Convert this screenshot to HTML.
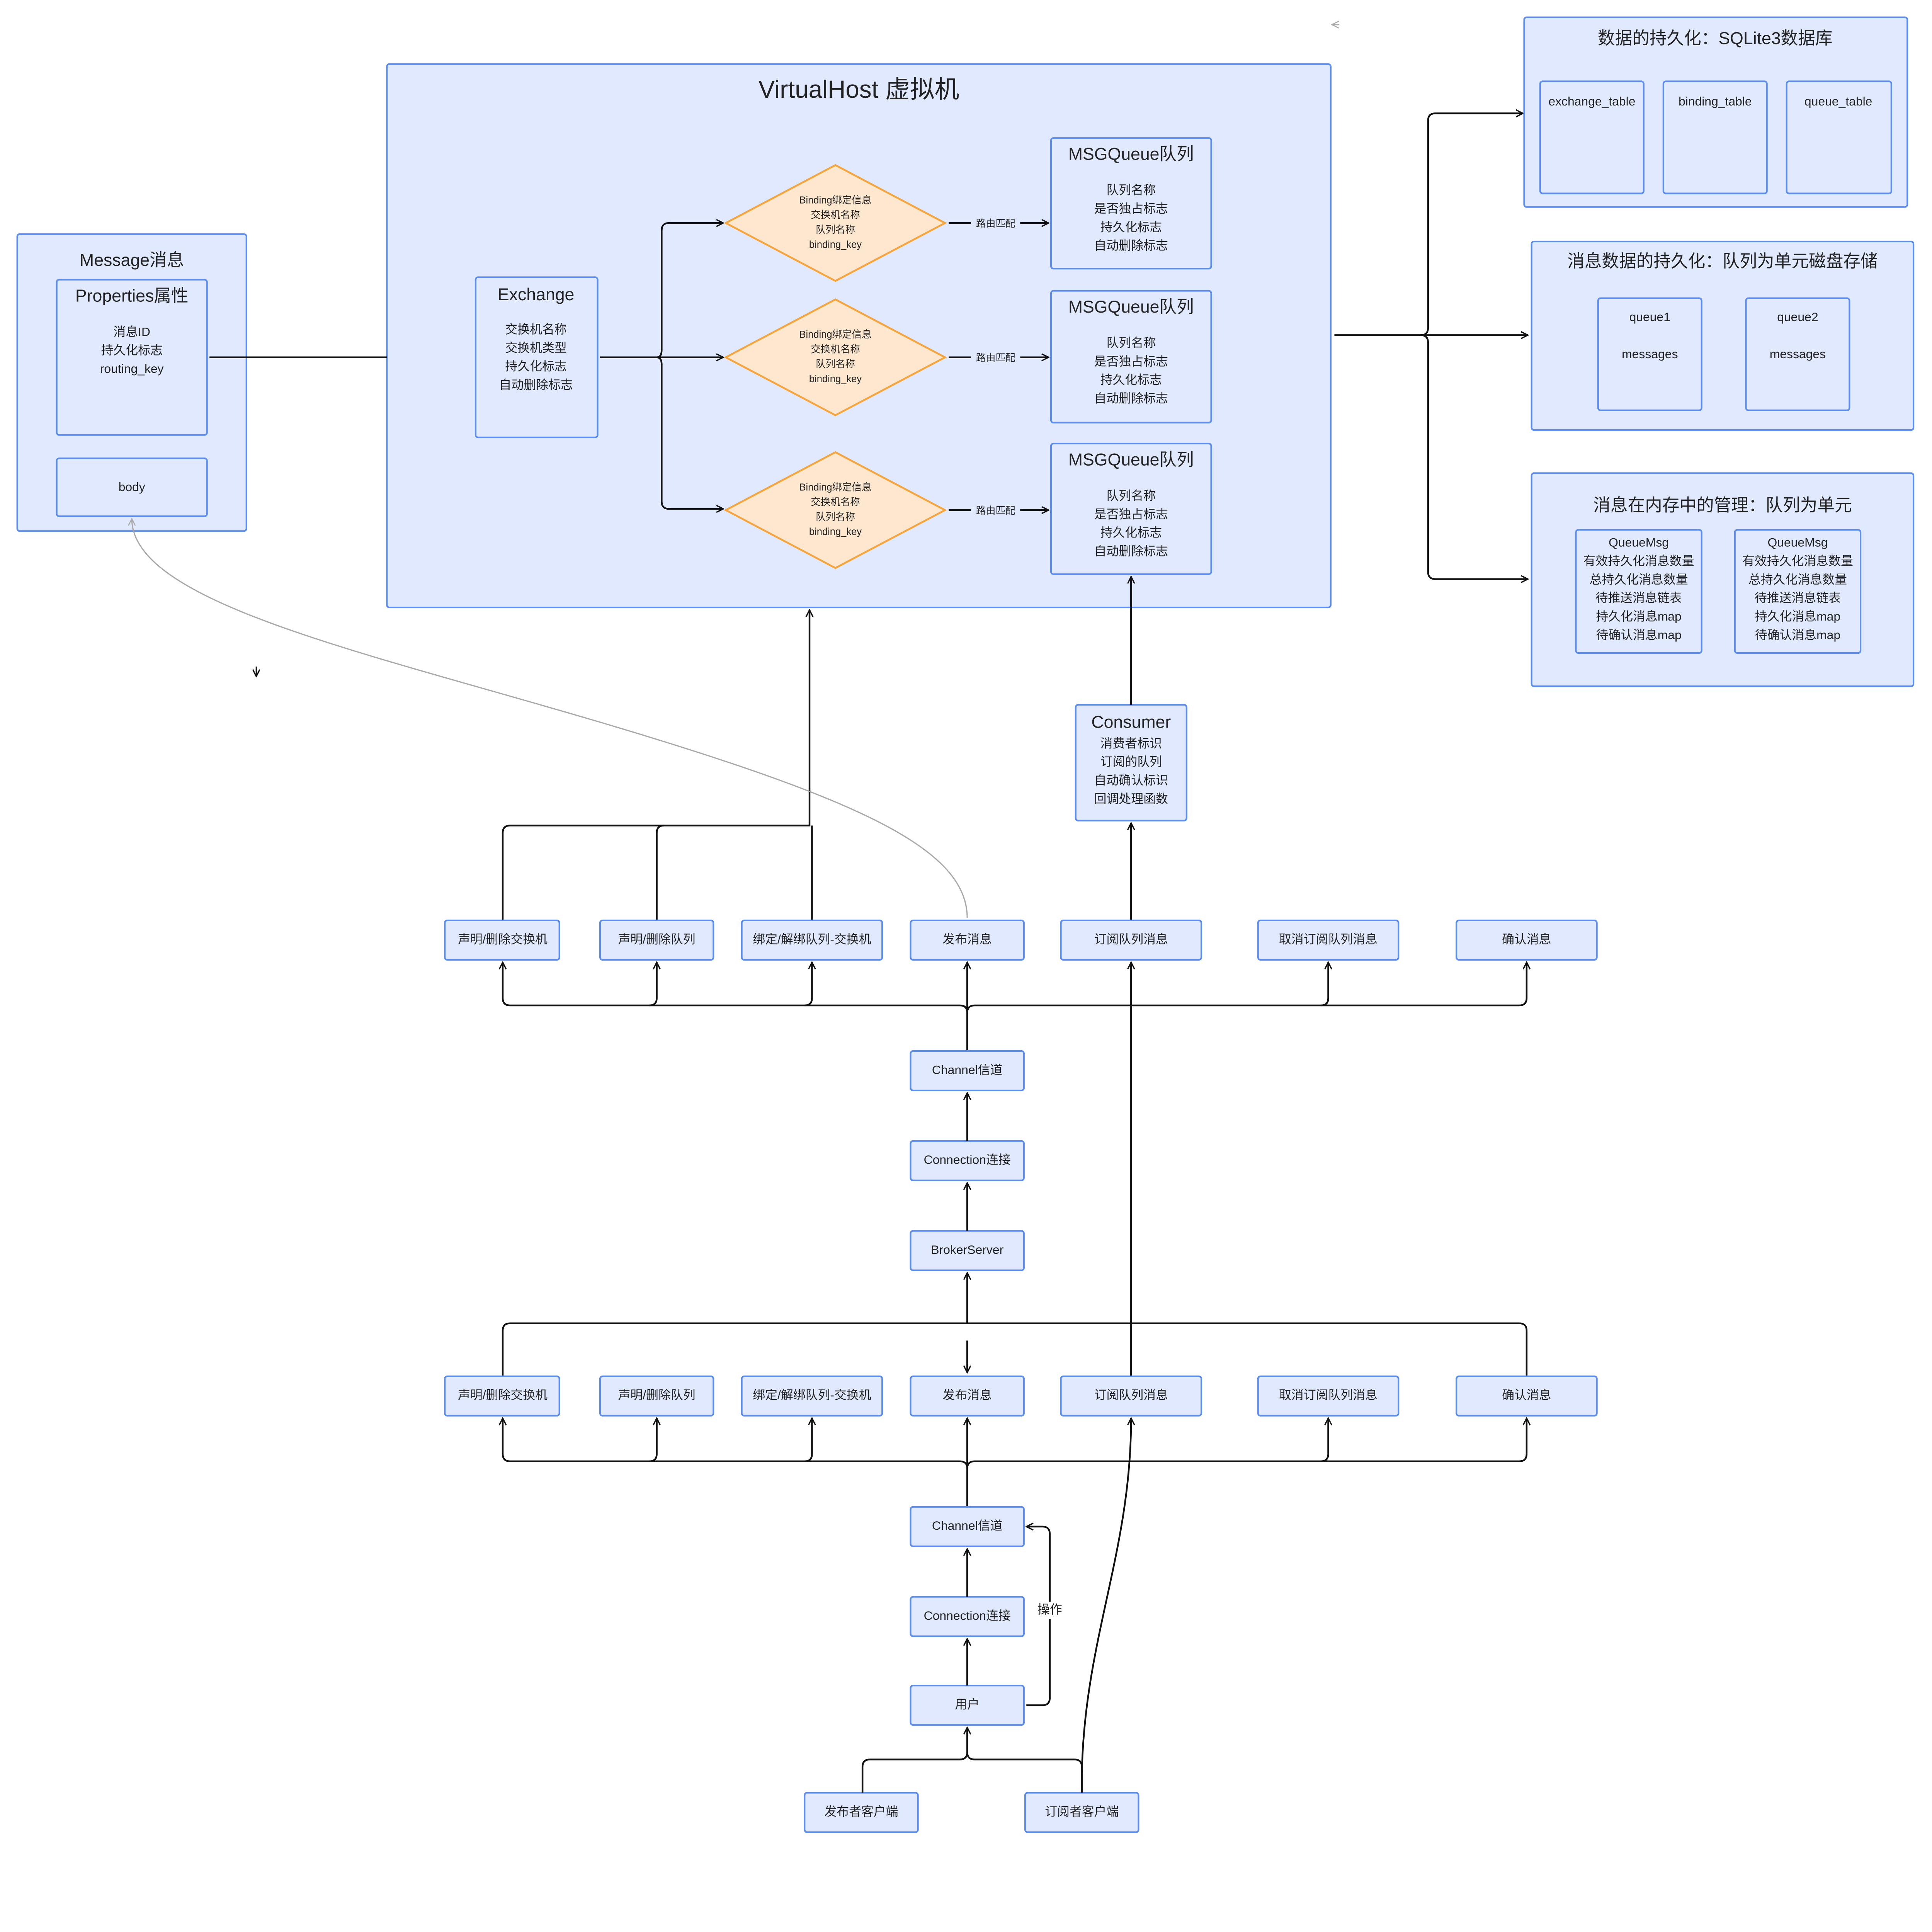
<!DOCTYPE html>
<html><head><meta charset="utf-8">
<style>
html,body{margin:0;padding:0;background:#fff;overflow:hidden;}
svg{display:block;width:100vw;height:95.853vw;position:absolute;left:0;top:0;}
text{font-family:"Liberation Sans","Noto Sans CJK SC",sans-serif;fill:#222;text-anchor:middle;dominant-baseline:middle;}
.b{fill:#e0e9fd;stroke:#5b8def;stroke-width:1.3;}
.d{fill:#fde7cf;stroke:#f7a53a;stroke-width:1.5;}
.l{fill:none;stroke:#111;stroke-width:1.4;}
.g{fill:none;stroke:#aaa;stroke-width:1;}
</style></head><body>
<svg viewBox="0 0 1568 1503" preserveAspectRatio="none" xmlns="http://www.w3.org/2000/svg">
<defs>
<marker id="a" viewBox="0 0 10 10" refX="9" refY="5" markerWidth="7" markerHeight="7" orient="auto-start-reverse" markerUnits="userSpaceOnUse"><path d="M1,1 L9,5 L1,9" fill="none" stroke="#111" stroke-width="1.5"/></marker>
<marker id="ag" viewBox="0 0 10 10" refX="9" refY="5" markerWidth="7" markerHeight="7" orient="auto-start-reverse" markerUnits="userSpaceOnUse"><path d="M1,1 L9,5 L1,9" fill="none" stroke="#aaa" stroke-width="1.2"/></marker>
</defs>
<rect width="1568" height="1503" fill="#fff"/>

<rect class="b" x="314" y="52" width="766" height="441" rx="2"/>
<text x="697" y="74" font-size="20">VirtualHost 虚拟机</text>

<rect class="b" x="14" y="190" width="186" height="241" rx="2"/>
<text x="107" y="212" font-size="14">Message消息</text>
<rect class="b" x="46" y="227" width="122" height="126" rx="2"/>
<text x="107" y="241" font-size="14">Properties属性</text>
<text x="107" y="270" font-size="10">消息ID</text>
<text x="107" y="285" font-size="10">持久化标志</text>
<text x="107" y="300" font-size="10">routing_key</text>
<rect class="b" x="46" y="372" width="122" height="47" rx="2"/>
<text x="107" y="396" font-size="10">body</text>
<path class="l" d="M170,290 H314"/>

<rect class="b" x="386" y="225" width="99" height="130" rx="2"/>
<text x="435" y="240" font-size="14">Exchange</text>
<text x="435" y="268" font-size="10">交换机名称</text>
<text x="435" y="283" font-size="10">交换机类型</text>
<text x="435" y="298" font-size="10">持久化标志</text>
<text x="435" y="313" font-size="10">自动删除标志</text>

<path class="l" d="M487,290 H587" marker-end="url(#a)"/>
<path class="l" d="M533,290 Q537,290 537,284 V187 Q537,181 543,181 H587" marker-end="url(#a)"/>
<path class="l" d="M533,290 Q537,290 537,296 V407 Q537,413 543,413 H587" marker-end="url(#a)"/>

<g font-size="8">
<polygon class="d" points="678,134 767,181 678,228 589,181"/>
<text x="678" y="163">Binding绑定信息</text><text x="678" y="175">交换机名称</text><text x="678" y="187">队列名称</text><text x="678" y="199">binding_key</text>
<polygon class="d" points="678,243 767,290 678,337 589,290"/>
<text x="678" y="272">Binding绑定信息</text><text x="678" y="284">交换机名称</text><text x="678" y="296">队列名称</text><text x="678" y="308">binding_key</text>
<polygon class="d" points="678,367 767,414 678,461 589,414"/>
<text x="678" y="396">Binding绑定信息</text><text x="678" y="408">交换机名称</text><text x="678" y="420">队列名称</text><text x="678" y="432">binding_key</text>
</g>
<g font-size="8">
<path class="l" d="M770,181 H788 M828,181 H851" marker-end="url(#a)"/><text x="808" y="182">路由匹配</text>
<path class="l" d="M770,290 H788 M828,290 H851" marker-end="url(#a)"/><text x="808" y="291">路由匹配</text>
<path class="l" d="M770,414 H788 M828,414 H851" marker-end="url(#a)"/><text x="808" y="415">路由匹配</text>
</g>

<g>
<rect class="b" x="853" y="112" width="130" height="106" rx="2"/>
<text x="918" y="126" font-size="14">MSGQueue队列</text>
<text x="918" y="155" font-size="10">队列名称</text><text x="918" y="170" font-size="10">是否独占标志</text><text x="918" y="185" font-size="10">持久化标志</text><text x="918" y="200" font-size="10">自动删除标志</text>
<rect class="b" x="853" y="236" width="130" height="107" rx="2"/>
<text x="918" y="250" font-size="14">MSGQueue队列</text>
<text x="918" y="279" font-size="10">队列名称</text><text x="918" y="294" font-size="10">是否独占标志</text><text x="918" y="309" font-size="10">持久化标志</text><text x="918" y="324" font-size="10">自动删除标志</text>
<rect class="b" x="853" y="360" width="130" height="106" rx="2"/>
<text x="918" y="374" font-size="14">MSGQueue队列</text>
<text x="918" y="403" font-size="10">队列名称</text><text x="918" y="418" font-size="10">是否独占标志</text><text x="918" y="433" font-size="10">持久化标志</text><text x="918" y="448" font-size="10">自动删除标志</text>
</g>

<rect class="b" x="873" y="572" width="90" height="94" rx="2"/>
<text x="918" y="587" font-size="14">Consumer</text>
<text x="918" y="604" font-size="10">消费者标识</text><text x="918" y="619" font-size="10">订阅的队列</text><text x="918" y="634" font-size="10">自动确认标识</text><text x="918" y="649" font-size="10">回调处理函数</text>
<path class="l" d="M918,572 V468" marker-end="url(#a)"/>
<path class="l" d="M918,747 V668" marker-end="url(#a)"/>

<path class="l" d="M1083,272 H1153 Q1159,272 1159,266 V98 Q1159,92 1165,92 H1236" marker-end="url(#a)"/>
<path class="l" d="M1153,272 Q1159,272 1159,278 V464 Q1159,470 1165,470 H1240" marker-end="url(#a)"/>
<path class="l" d="M1153,272 H1240" marker-end="url(#a)"/>

<rect class="b" x="1237" y="14" width="311" height="154" rx="2"/>
<text x="1392" y="32" font-size="14">数据的持久化：SQLite3数据库</text>
<rect class="b" x="1250" y="66" width="84" height="91" rx="2"/><text x="1292" y="83" font-size="10">exchange_table</text>
<rect class="b" x="1350" y="66" width="84" height="91" rx="2"/><text x="1392" y="83" font-size="10">binding_table</text>
<rect class="b" x="1450" y="66" width="85" height="91" rx="2"/><text x="1492" y="83" font-size="10">queue_table</text>

<rect class="b" x="1243" y="196" width="310" height="153" rx="2"/>
<text x="1398" y="213" font-size="14">消息数据的持久化：队列为单元磁盘存储</text>
<rect class="b" x="1297" y="242" width="84" height="91" rx="2"/><text x="1339" y="258" font-size="10">queue1</text><text x="1339" y="288" font-size="10">messages</text>
<rect class="b" x="1417" y="242" width="84" height="91" rx="2"/><text x="1459" y="258" font-size="10">queue2</text><text x="1459" y="288" font-size="10">messages</text>

<rect class="b" x="1243" y="384" width="310" height="173" rx="2"/>
<text x="1398" y="411" font-size="14">消息在内存中的管理：队列为单元</text>
<rect class="b" x="1279" y="430" width="102" height="100" rx="2"/>
<rect class="b" x="1408" y="430" width="102" height="100" rx="2"/>
<g font-size="10">
<text x="1330" y="441">QueueMsg</text><text x="1330" y="456">有效持久化消息数量</text><text x="1330" y="471">总持久化消息数量</text><text x="1330" y="486">待推送消息链表</text><text x="1330" y="501">持久化消息map</text><text x="1330" y="516">待确认消息map</text>
<text x="1459" y="441">QueueMsg</text><text x="1459" y="456">有效持久化消息数量</text><text x="1459" y="471">总持久化消息数量</text><text x="1459" y="486">待推送消息链表</text><text x="1459" y="501">持久化消息map</text><text x="1459" y="516">待确认消息map</text>
</g>

<path class="l" d="M408,747 V676 Q408,670 414,670 H657 V495" marker-end="url(#a)"/>
<path class="l" d="M533,747 V676 Q533,670 539,670"/>
<path class="l" d="M659,747 V670"/>
<path class="g" d="M785,745 C785,690 700,650 500,590 C300,530 107,490 107,421" marker-end="url(#ag)"/>
<path class="g" d="M1087,20 H1081" marker-end="url(#ag)"/>
<path class="l" d="M208,541 V549" style="stroke-width:1" marker-end="url(#a)"/>

<g font-size="10">
<rect class="b" x="361" y="747" width="93" height="32" rx="2"/><text x="408" y="763">声明/删除交换机</text>
<rect class="b" x="487" y="747" width="92" height="32" rx="2"/><text x="533" y="763">声明/删除队列</text>
<rect class="b" x="602" y="747" width="114" height="32" rx="2"/><text x="659" y="763">绑定/解绑队列-交换机</text>
<rect class="b" x="739" y="747" width="92" height="32" rx="2"/><text x="785" y="763">发布消息</text>
<rect class="b" x="861" y="747" width="114" height="32" rx="2"/><text x="918" y="763">订阅队列消息</text>
<rect class="b" x="1021" y="747" width="114" height="32" rx="2"/><text x="1078" y="763">取消订阅队列消息</text>
<rect class="b" x="1182" y="747" width="114" height="32" rx="2"/><text x="1239" y="763">确认消息</text>
</g>
<path class="l" d="M785,853 V816"/>
<path class="l" d="M785,822 Q785,816 779,816 H414 Q408,816 408,810 V781" marker-end="url(#a)"/>
<path class="l" d="M785,822 Q785,816 791,816 H1233 Q1239,816 1239,810 V781" marker-end="url(#a)"/>
<path class="l" d="M527,816 Q533,816 533,810 V781" marker-end="url(#a)"/>
<path class="l" d="M653,816 Q659,816 659,810 V781" marker-end="url(#a)"/>
<path class="l" d="M785,816 V781" marker-end="url(#a)"/>
<path class="l" d="M918,1117 V781" marker-end="url(#a)"/>
<path class="l" d="M1072,816 Q1078,816 1078,810 V781" marker-end="url(#a)"/>

<g font-size="10">
<rect class="b" x="739" y="853" width="92" height="32" rx="2"/><text x="785" y="869">Channel信道</text>
<rect class="b" x="739" y="926" width="92" height="32" rx="2"/><text x="785" y="942">Connection连接</text>
<rect class="b" x="739" y="999" width="92" height="32" rx="2"/><text x="785" y="1015">BrokerServer</text>
</g>
<path class="l" d="M785,926 V887" marker-end="url(#a)"/>
<path class="l" d="M785,999 V960" marker-end="url(#a)"/>
<path class="l" d="M785,1074 V1033" marker-end="url(#a)"/>
<path class="l" d="M408,1117 V1080 Q408,1074 414,1074 H1233 Q1239,1074 1239,1080 V1117"/>
<path class="l" d="M785,1088 V1114" marker-end="url(#a)"/>

<g font-size="10">
<rect class="b" x="361" y="1117" width="93" height="32" rx="2"/><text x="408" y="1133">声明/删除交换机</text>
<rect class="b" x="487" y="1117" width="92" height="32" rx="2"/><text x="533" y="1133">声明/删除队列</text>
<rect class="b" x="602" y="1117" width="114" height="32" rx="2"/><text x="659" y="1133">绑定/解绑队列-交换机</text>
<rect class="b" x="739" y="1117" width="92" height="32" rx="2"/><text x="785" y="1133">发布消息</text>
<rect class="b" x="861" y="1117" width="114" height="32" rx="2"/><text x="918" y="1133">订阅队列消息</text>
<rect class="b" x="1021" y="1117" width="114" height="32" rx="2"/><text x="1078" y="1133">取消订阅队列消息</text>
<rect class="b" x="1182" y="1117" width="114" height="32" rx="2"/><text x="1239" y="1133">确认消息</text>
</g>
<path class="l" d="M785,1223 V1186"/>
<path class="l" d="M785,1192 Q785,1186 779,1186 H414 Q408,1186 408,1180 V1151" marker-end="url(#a)"/>
<path class="l" d="M785,1192 Q785,1186 791,1186 H1233 Q1239,1186 1239,1180 V1151" marker-end="url(#a)"/>
<path class="l" d="M527,1186 Q533,1186 533,1180 V1151" marker-end="url(#a)"/>
<path class="l" d="M653,1186 Q659,1186 659,1180 V1151" marker-end="url(#a)"/>
<path class="l" d="M785,1186 V1151" marker-end="url(#a)"/>
<path class="l" d="M1072,1186 Q1078,1186 1078,1180 V1151" marker-end="url(#a)"/>
<path class="l" d="M878,1440 C880,1330 918,1260 918,1151" marker-end="url(#a)"/>

<g font-size="10">
<rect class="b" x="739" y="1223" width="92" height="32" rx="2"/><text x="785" y="1239">Channel信道</text>
<rect class="b" x="739" y="1296" width="92" height="32" rx="2"/><text x="785" y="1312">Connection连接</text>
<rect class="b" x="739" y="1368" width="92" height="32" rx="2"/><text x="785" y="1384">用户</text>
<rect class="b" x="653" y="1455" width="92" height="32" rx="2"/><text x="699" y="1471">发布者客户端</text>
<rect class="b" x="832" y="1455" width="92" height="32" rx="2"/><text x="878" y="1471">订阅者客户端</text>
</g>
<path class="l" d="M785,1296 V1257" marker-end="url(#a)"/>
<path class="l" d="M785,1368 V1330" marker-end="url(#a)"/>
<path class="l" d="M833,1384 H846 Q852,1384 852,1378 V1245 Q852,1239 846,1239 H833" marker-end="url(#a)"/>
<rect x="841" y="1300" width="22" height="14" fill="#fff"/>
<text x="852" y="1307" font-size="10">操作</text>
<path class="l" d="M700,1455 V1434 Q700,1428 706,1428 H779 Q785,1428 785,1422 V1402" marker-end="url(#a)"/>
<path class="l" d="M878,1455 V1434 Q878,1428 872,1428 H791 Q785,1428 785,1422"/>
</svg>
</body></html>
